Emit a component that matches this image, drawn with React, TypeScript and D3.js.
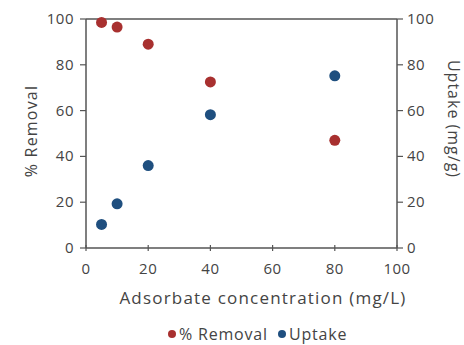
import React from "react";
import * as d3 from "d3";

const concentration = [5, 10, 20, 40, 80];
const removal = [98.5, 96.5, 89, 72.5, 47];
const uptake = [10.3, 19.3, 36, 58.2, 75.2];
const xTicks = [0, 20, 40, 60, 80, 100];
const yTicks = [0, 20, 40, 60, 80, 100];

const W = 464, H = 345;
const M = { left: 86, right: 397, top: 19, bottom: 248 };
const RED = "#a8302f";
const BLUE = "#1f4f7f";
const AXIS = "#555";
const FONT = "'Open Sans', sans-serif";

export default function App() {
  const x = d3.scaleLinear().domain([0, 100]).range([M.left, M.right]);
  const yL = d3.scaleLinear().domain([0, 100]).range([M.bottom, M.top]);
  const yR = d3.scaleLinear().domain([0, 100]).range([M.bottom, M.top]);
  return (
    <svg width={W} height={H} style={{ position: "absolute", left: 0, top: 0, background: "#fff" }} fontFamily={FONT}>
      <rect x={0} y={0} width={W} height={H} fill="#fff" />
      {/* frame */}
      <line x1={M.left} x2={M.right} y1={M.top} y2={M.top} stroke={AXIS} strokeWidth={1.5} />
      <line x1={M.left} x2={M.right} y1={M.bottom} y2={M.bottom} stroke={AXIS} strokeWidth={1.5} />
      <line x1={M.left} x2={M.left} y1={M.top} y2={M.bottom} stroke={AXIS} strokeWidth={1.5} />
      <line x1={M.right} x2={M.right} y1={M.top} y2={M.bottom} stroke={AXIS} strokeWidth={1.5} />
      {/* x ticks */}
      {xTicks.map((t) => (
        <g key={"x" + t}>
          <line x1={x(t)} x2={x(t)} y1={M.bottom - 3} y2={M.bottom + 3} stroke={AXIS} strokeWidth={1.2} />
          <text x={x(t)} y={M.bottom + 26} textAnchor="middle" fontSize={15} letterSpacing={0.5} fill="#444">{t}</text>
        </g>
      ))}
      {/* left ticks */}
      {yTicks.map((t) => (
        <g key={"yl" + t}>
          <line x1={M.left - 6} x2={M.left} y1={yL(t)} y2={yL(t)} stroke={AXIS} strokeWidth={1.2} />
          <text x={M.left - 12} y={yL(t) + 5} textAnchor="end" fontSize={15} letterSpacing={0.5} fill="#444">{t}</text>
        </g>
      ))}
      {/* right ticks */}
      {yTicks.map((t) => (
        <g key={"yr" + t}>
          <line x1={M.right} x2={M.right + 6} y1={yR(t)} y2={yR(t)} stroke={AXIS} strokeWidth={1.2} />
          <text x={M.right + 10} y={yR(t) + 5} textAnchor="start" fontSize={15} letterSpacing={0.5} fill="#444">{t}</text>
        </g>
      ))}
      {/* points */}
      {concentration.map((c, i) => (
        <circle key={"r" + i} cx={x(c)} cy={yL(removal[i])} r={5.5} fill={RED} />
      ))}
      {concentration.map((c, i) => (
        <circle key={"b" + i} cx={x(c)} cy={yR(uptake[i])} r={5.5} fill={BLUE} />
      ))}
      {/* axis titles */}
      <text x={263} y={304} textAnchor="middle" fontSize={17} letterSpacing={1.2} fill="#444">Adsorbate concentration (mg/L)</text>
      <text transform={`translate(37,131) rotate(-90)`} textAnchor="middle" fontSize={16} letterSpacing={1.2} fill="#444">% Removal</text>
      <text transform={`translate(448,119) rotate(90)`} textAnchor="middle" fontSize={16} letterSpacing={1} fill="#444">Uptake (mg/g)</text>
      {/* legend */}
      <circle cx={172} cy={334} r={4} fill={RED} />
      <text x={179} y={340} fontSize={16} letterSpacing={0.8} fill="#444">% Removal</text>
      <circle cx={282} cy={334} r={4} fill={BLUE} />
      <text x={289} y={340} fontSize={16} letterSpacing={0.8} fill="#444">Uptake</text>
    </svg>
  );
}
